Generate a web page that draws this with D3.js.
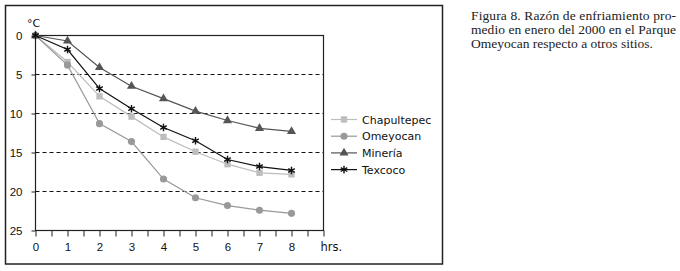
<html>
<head>
<style>
  body { margin: 0; background: #fff; }
</style>
</head>
<body>
<div id="chart"></div>
<script src="https://d3js.org/d3.v7.min.js"></script>
<script>
  // data
  var hours = [0, 1, 2, 3, 4, 5, 6, 7, 8];
  var chapultepec = [0, 3.4, 7.8, 10.4, 13.0, 14.9, 16.5, 17.6, 17.8];
  var omeyocan = [0, 3.8, 11.3, 13.6, 18.4, 20.8, 21.8, 22.4, 22.8];
  var mineria = [0, 0.7, 4.1, 6.5, 8.1, 9.7, 10.9, 11.9, 12.3];
  var texcoco = [0, 1.8, 6.8, 9.4, 11.8, 13.5, 15.9, 16.8, 17.3];
  var seriesNames = ["Chapultepec", "Omeyocan", "Minería", "Texcoco"];
  var yTicks = [0, 5, 10, 15, 20, 25];
  var gridTicks = [5, 10, 15, 20];
  var captionLines = ["Figura 8. Razón de enfriamiento pro-",
                      "medio en enero del 2000 en el Parque",
                      "Omeyocan respecto a otros sitios."];

  var series = [
    { name: seriesNames[0], values: chapultepec, color: "#bdbdbd", symbol: "square" },
    { name: seriesNames[1], values: omeyocan, color: "#999999", symbol: "circle" },
    { name: seriesNames[2], values: mineria, color: "#555555", symbol: "triangle" },
    { name: seriesNames[3], values: texcoco, color: "#111111", symbol: "star" }
  ];

  var svg = d3.select("#chart")
    .append("svg")
    .attr("width", 680)
    .attr("height", 271)
    .style("font-family", "'DejaVu Sans', sans-serif");

  // outer frame
  svg.append("rect")
    .attr("x", 5.5).attr("y", 5.5)
    .attr("width", 437).attr("height", 258.5)
    .attr("fill", "none")
    .attr("stroke", "#222")
    .attr("stroke-width", 1.5);

  var plotLeft = 35.5, plotRight = 323.5, plotTop = 35.5, plotBottom = 230.5;

  var x = d3.scaleLinear().domain([0, 9]).range([plotLeft, plotRight]);
  var y = d3.scaleLinear().domain([0, 25]).range([plotTop, plotBottom]);

  // plot box
  svg.append("rect")
    .attr("x", plotLeft).attr("y", plotTop)
    .attr("width", plotRight - plotLeft).attr("height", plotBottom - plotTop)
    .attr("fill", "none")
    .attr("stroke", "#222")
    .attr("stroke-width", 1.2);

  // dashed grid
  svg.selectAll(".grid")
    .data(gridTicks)
    .enter()
    .append("line")
    .attr("x1", plotLeft).attr("x2", plotRight)
    .attr("y1", function (d) { return y(d); })
    .attr("y2", function (d) { return y(d); })
    .attr("stroke", "#111")
    .attr("stroke-width", 1)
    .attr("stroke-dasharray", "4,3");

  // x axis: minor ticks every half hour, labels on whole hours
  var xAxis = d3.axisBottom(x)
    .tickValues(d3.range(0, 9.01, 0.5))
    .tickSize(6)
    .tickPadding(6)
    .tickFormat(function (d) { return d % 1 === 0 && d <= 8 ? d : ""; });
  var gx = svg.append("g")
    .attr("transform", "translate(0," + plotBottom + ")")
    .call(xAxis);
  gx.select(".domain").remove();
  gx.selectAll("line").attr("stroke", "#222");
  gx.selectAll("text").style("font-size", "11.5px").attr("fill", "#111");

  svg.append("text")
    .attr("x", x(9) - 3)
    .attr("y", plotBottom + 20)
    .style("font-size", "11.5px")
    .attr("fill", "#111")
    .text("hrs.");

  // y axis
  var yAxis = d3.axisLeft(y)
    .tickValues(yTicks)
    .tickSize(4)
    .tickPadding(9);
  var gy = svg.append("g")
    .attr("transform", "translate(" + plotLeft + ",0)")
    .call(yAxis);
  gy.select(".domain").remove();
  gy.selectAll("line").attr("stroke", "#222");
  gy.selectAll("text").style("font-size", "11.5px").attr("fill", "#111");

  svg.append("text")
    .attr("x", 27)
    .attr("y", 27)
    .style("font-size", "11px")
    .attr("fill", "#111")
    .text("°C");

  function drawSymbol(g, type, color) {
    if (type === "star") {
      g.append("path")
        .attr("d", d3.symbol().type(d3.symbolAsterisk).size(40)())
        .attr("fill", "none")
        .attr("stroke", color)
        .attr("stroke-width", 1.4);
    } else {
      var t = type === "square" ? d3.symbolSquare
            : type === "circle" ? d3.symbolCircle
            : d3.symbolTriangle;
      var s = type === "triangle" ? 36 : 40;
      g.append("path")
        .attr("d", d3.symbol().type(t).size(s)())
        .attr("fill", color);
    }
  }

  var line = d3.line()
    .x(function (d, i) { return x(hours[i]); })
    .y(function (d) { return y(d); });

  series.forEach(function (s) {
    svg.append("path")
      .datum(s.values)
      .attr("d", line)
      .attr("fill", "none")
      .attr("stroke", s.color)
      .attr("stroke-width", 1.2);
    s.values.forEach(function (v, i) {
      var g = svg.append("g")
        .attr("transform", "translate(" + x(hours[i]) + "," + y(v) + ")");
      drawSymbol(g, s.symbol, s.color);
    });
  });

  // legend
  var legend = svg.append("g");
  series.forEach(function (s, i) {
    var ly = 119.5 + i * 16.7;
    legend.append("line")
      .attr("x1", 331).attr("x2", 357)
      .attr("y1", ly).attr("y2", ly)
      .attr("stroke", s.color)
      .attr("stroke-width", 1.2);
    var g = legend.append("g").attr("transform", "translate(344," + ly + ")");
    drawSymbol(g, s.symbol, s.color);
    legend.append("text")
      .attr("x", 362)
      .attr("y", ly + 4)
      .style("font-size", "11px")
      .attr("fill", "#111")
      .text(s.name);
  });

  // caption (first two lines justified to the same width)
  var capWidths = [205, 205, null];
  captionLines.forEach(function (t, i) {
    var tx = svg.append("text")
      .attr("x", 471)
      .attr("y", 20 + i * 14)
      .style("font-family", "'Liberation Serif', serif")
      .style("font-size", "13.5px")
      .attr("fill", "#222")
      .text(t);
    if (capWidths[i]) {
      tx.attr("textLength", capWidths[i]).attr("lengthAdjust", "spacing");
    }
  });
</script>
</body>
</html>
